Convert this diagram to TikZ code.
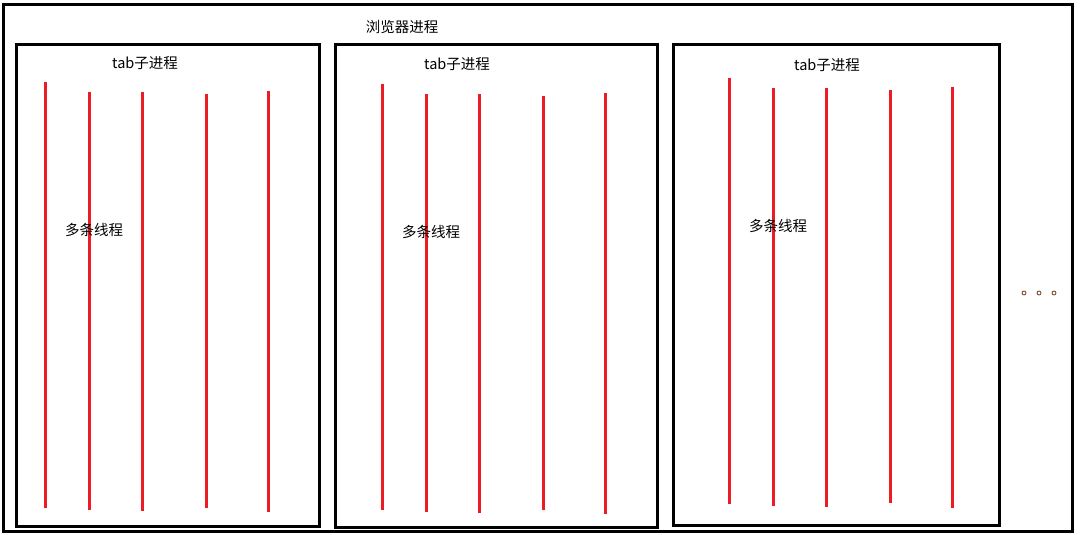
\documentclass[tikz,border=0pt]{standalone}
\usepackage{fontspec}
\setmainfont{Noto Sans CJK SC}
\definecolor{paintred}{RGB}{237,28,36}
\begin{document}
\begin{tikzpicture}[x=1pt,y=-1pt,
  box/.style={draw=black,line width=3pt},
  thread/.style={draw=paintred,line width=3pt},
  lbl/.style={font=\fontsize{14.5}{16}\selectfont,inner sep=0pt,anchor=center},
  dotc/.style={circle,draw={rgb,255:red,120;green,60;blue,30},line width=0.8pt,inner sep=0pt,minimum size=4pt}]
\useasboundingbox (0,0) rectangle (1081,535);
\fill[white] (0,0) rectangle (1081,535);
\draw[box] (3.5,4.5) rectangle (1072.5,531.5);
\node[lbl] (browser) at (402,27) {浏览器进程};
% boxes
\draw[box] (16.5,44.5) rectangle (319.5,526) node[pos=0,coordinate] (b1) {};
\draw[box] (335.5,44.5) rectangle (657.5,527) node[pos=0,coordinate] (b2) {};
\draw[box] (673.5,44.5) rectangle (999.5,525) node[pos=0,coordinate] (b3) {};
% threads box 1
\foreach \x/\a/\b in {45/82/508, 89/92/510, 142/92/511, 206/94/508, 268/91/512,
                      382/84/510, 426/94/512, 479/94/513, 543/96/510, 605/93/514,
                      729/78/504, 773/88/506, 826/88/507, 890/90/503, 952/87/508}
  \draw[thread] (\x,\a) -- (\x,\b);
\node[lbl] (tab1) at (145,63) {tab子进程};
\node[lbl] (tab2) at (457,64) {tab子进程};
\node[lbl] (tab3) at (827,65) {tab子进程};
\node[lbl] (mt1) at (94,230) {多条线程};
\node[lbl] (mt2) at (431,232) {多条线程};
\node[lbl] (mt3) at (778,226) {多条线程};
\node[dotc] (d1) at (1024,293) {};
\node[dotc] (d2) at (1039,293) {};
\node[dotc] (d3) at (1054,293) {};
\end{tikzpicture}
\end{document}
